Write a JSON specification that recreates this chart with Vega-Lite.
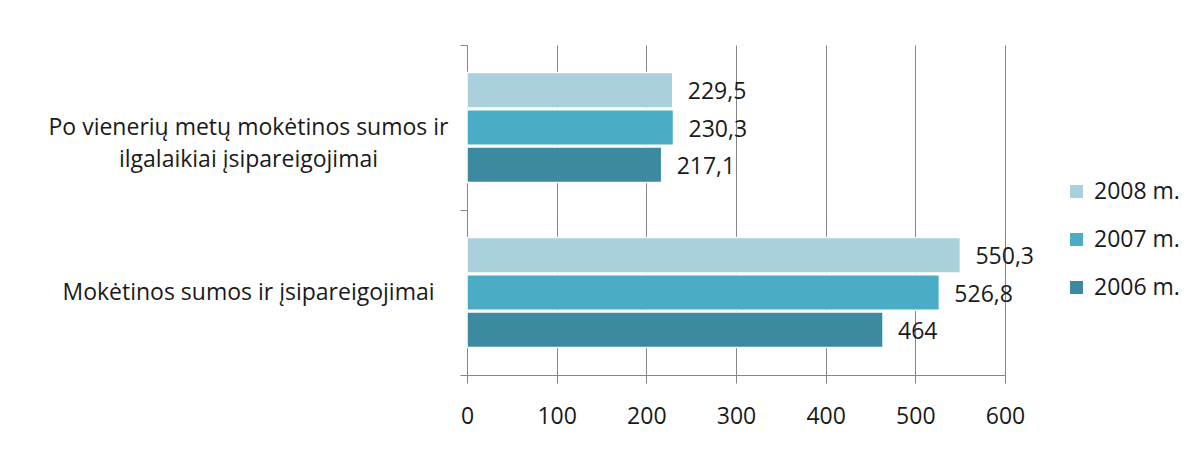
{
  "$schema": "https://vega.github.io/schema/vega-lite/v6.json",
  "autosize": "none",
  "width": 538,
  "height": 330,
  "padding": {"left": 467, "top": 45, "right": 195, "bottom": 79},
  "background": "white",
  "config": {
    "font": "Open Sans",
    "view": {"stroke": null}
  },
  "data": {
    "values": [
      {"kat": "Po vienerių metų mokėtinos sumos ir ilgalaikiai įsipareigojimai", "metai": "2008 m.", "reiksme": 229.5, "tekstas": "229,5"},
      {"kat": "Po vienerių metų mokėtinos sumos ir ilgalaikiai įsipareigojimai", "metai": "2007 m.", "reiksme": 230.3, "tekstas": "230,3"},
      {"kat": "Po vienerių metų mokėtinos sumos ir ilgalaikiai įsipareigojimai", "metai": "2006 m.", "reiksme": 217.1, "tekstas": "217,1"},
      {"kat": "Mokėtinos sumos ir įsipareigojimai", "metai": "2008 m.", "reiksme": 550.3, "tekstas": "550,3"},
      {"kat": "Mokėtinos sumos ir įsipareigojimai", "metai": "2007 m.", "reiksme": 526.8, "tekstas": "526,8"},
      {"kat": "Mokėtinos sumos ir įsipareigojimai", "metai": "2006 m.", "reiksme": 464, "tekstas": "464"}
    ]
  },
  "encoding": {
    "y": {
      "field": "kat",
      "type": "nominal",
      "sort": ["Po vienerių metų mokėtinos sumos ir ilgalaikiai įsipareigojimai", "Mokėtinos sumos ir įsipareigojimai"],
      "scale": {"paddingInner": 0, "paddingOuter": 0},
      "axis": {
        "title": null,
        "bandPosition": 1,
        "tickExtra": true,
        "domainColor": "#868686",
        "tickColor": "#868686",
        "tickSize": 7,
        "labelAlign": "center",
        "labelPadding": 212,
        "labelFontSize": 23,
        "labelColor": "#1a1a1a",
        "labelLimit": 500,
        "labelLineHeight": 32,
        "labelExpr": "datum.label == 'Po vienerių metų mokėtinos sumos ir ilgalaikiai įsipareigojimai' ? ['Po vienerių metų mokėtinos sumos ir', 'ilgalaikiai įsipareigojimai'] : datum.label"
      }
    },
    "yOffset": {
      "field": "metai",
      "type": "nominal",
      "sort": ["2008 m.", "2007 m.", "2006 m."],
      "scale": {"paddingInner": 0.05, "paddingOuter": 0.7375}
    },
    "x": {
      "field": "reiksme",
      "type": "quantitative",
      "scale": {"domain": [0, 600]},
      "axis": {
        "title": null,
        "values": [0, 100, 200, 300, 400, 500, 600],
        "grid": true,
        "gridColor": "#868686",
        "gridOpacity": 1,
        "domainColor": "#868686",
        "tickColor": "#868686",
        "tickSize": 8,
        "labelPadding": 22,
        "labelFontSize": 23,
        "labelColor": "#1a1a1a",
        "labelFlush": false
      }
    }
  },
  "layer": [
    {
      "mark": {"type": "bar", "stroke": "white", "strokeWidth": 1.5},
      "encoding": {
        "color": {
          "field": "metai",
          "type": "nominal",
          "scale": {"domain": ["2008 m.", "2007 m.", "2006 m."], "range": ["#AACFDD", "#4BACC6", "#3B8AA0"]},
          "legend": {
            "title": null,
            "orient": "none",
            "legendX": 598,
            "legendY": 135,
            "symbolType": "square",
            "symbolSize": 169,
            "symbolStrokeWidth": 0,
            "labelFontSize": 23,
            "labelColor": "#1a1a1a",
            "rowPadding": 24,
            "labelOffset": 6
          }
        }
      }
    },
    {
      "mark": {"type": "text", "align": "left", "baseline": "middle", "dx": 15, "dy": 2, "fontSize": 23, "color": "#1a1a1a"},
      "encoding": {"text": {"field": "tekstas"}}
    }
  ]
}
